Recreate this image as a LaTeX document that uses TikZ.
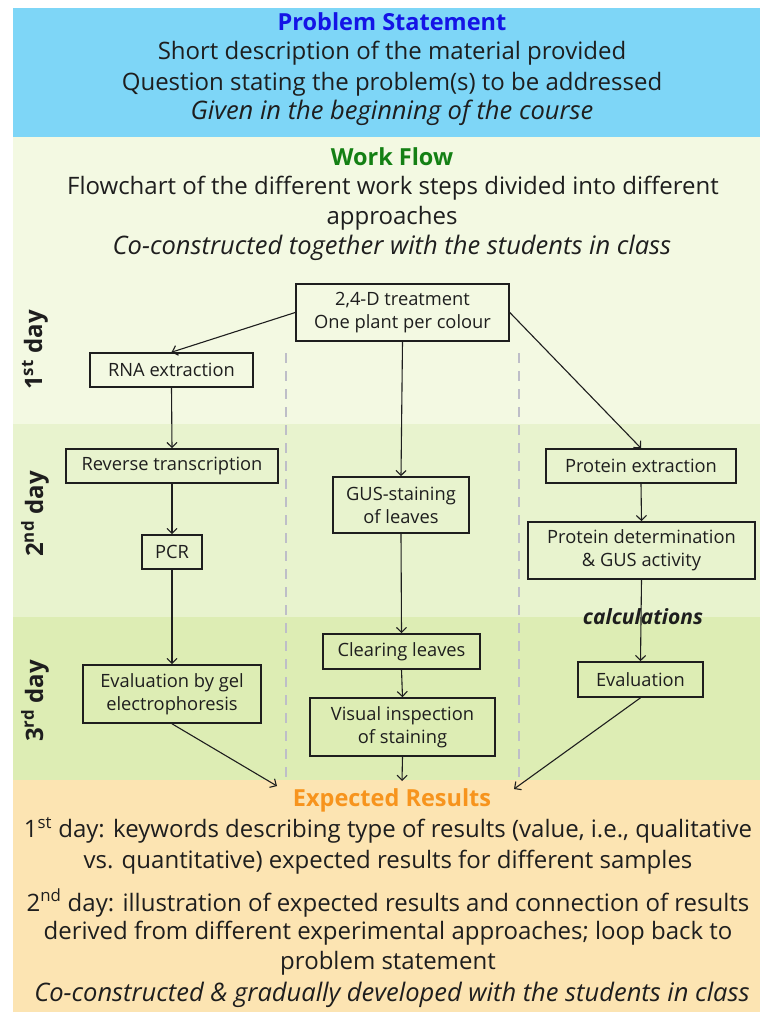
\documentclass[tikz,border=0pt]{standalone}
\usepackage{fontspec}
\setmainfont{Open Sans}
\usetikzlibrary{arrows.meta}
\definecolor{psblue}{RGB}{126,214,247}
\definecolor{pstitle}{RGB}{20,20,230}
\definecolor{wftitle}{RGB}{20,128,20}
\definecolor{bgone}{RGB}{243,249,226}
\definecolor{bgtwo}{RGB}{232,243,206}
\definecolor{bgthree}{RGB}{221,237,180}
\definecolor{bgres}{RGB}{252,228,178}
\definecolor{restitle}{RGB}{247,148,29}
\definecolor{txt}{RGB}{30,30,30}
\definecolor{dashc}{RGB}{190,190,200}
\tikzset{
  hdr/.style={font=\fontsize{24}{28}\selectfont, text=txt, inner sep=0pt},
  hdrit/.style={hdr, font=\fontsize{25.5}{28}\selectfont\itshape},
  ttl/.style={font=\fontsize{23.5}{26}\selectfont\bfseries, inner sep=0pt},
  daylbl/.style={font=\fontsize{24}{26}\selectfont\bfseries, text=txt, rotate=90, inner sep=0pt},
  stepbox/.style={draw=txt, line width=1.6pt, font=\fontsize{18.3}{23}\selectfont, align=center, inner sep=0pt, text=txt},
  arr/.style={-{Straight Barb[length=5pt,width=10pt]}, line width=1.1pt, draw=txt},
  sep/.style={draw=dashc, line width=1.5pt, dash pattern=on 10pt off 8pt},
}
\begin{document}
\begin{tikzpicture}[x=1pt,y=-1pt]
\useasboundingbox (0,0) rectangle (760,1012);
% bands
\fill[white] (0,0) rectangle (760,1012);
\fill[psblue] (13,8) rectangle (760,137);
\fill[bgone] (13,137) rectangle (760,424);
\fill[bgtwo] (13,424) rectangle (760,617);
\fill[bgthree] (13,617) rectangle (760,780);
\fill[bgres] (13,780) rectangle (760,1012);
% problem statement
\node[ttl, text=pstitle] (pst) at (392,22) {Problem Statement};
\node[hdr] (ps1) at (392,53) {Short description of the material provided};
\node[hdr] (ps2) at (392,84) {Question stating the problem(s) to be addressed};
\node[hdrit] (ps3) at (392,113) {Given in the beginning of the course};
% work flow
\node[ttl, text=wftitle] (wft) at (392,157) {Work Flow};
\node[hdr] (wf1) at (393,188) {Flowchart of the different work steps divided into different};
\node[hdr] (wf2) at (392,218) {approaches};
\node[hdrit] (wf3) at (392,248) {Co-constructed together with the students in class};
% day labels
\node[daylbl] (d1) at (35,350) {1\textsuperscript{st} day};
\node[daylbl] (d2) at (35,514) {2\textsuperscript{nd} day};
\node[daylbl] (d3) at (35,701) {3\textsuperscript{rd} day};
% separators
\draw[sep] (286,353) -- (286,778);
\draw[sep] (519,353) -- (519,778);
% boxes
\node[stepbox, minimum width=213pt, minimum height=57pt] (tr) at (402.5,312.5) {2,4-D treatment\\One plant per colour};
\node[stepbox, minimum width=163pt, minimum height=34pt] (rna) at (171.5,370) {RNA extraction};
\node[stepbox, minimum width=212pt, minimum height=34pt] (rt) at (172,466) {Reverse transcription};
\node[stepbox, minimum width=60pt, minimum height=34pt] (pcr) at (172,552) {PCR};
\node[stepbox, minimum width=178pt, minimum height=58pt] (gel) at (172,694) {Evaluation by gel\\electrophoresis};
\node[stepbox, minimum width=136pt, minimum height=56pt] (gus) at (401,505) {GUS-staining\\of leaves};
\node[stepbox, minimum width=157pt, minimum height=35pt] (clr) at (401.5,651.5) {Clearing leaves};
\node[stepbox, minimum width=185pt, minimum height=58pt] (vis) at (402.5,727) {Visual inspection\\of staining};
\node[stepbox, minimum width=190pt, minimum height=34pt] (pe) at (641,466) {Protein extraction};
\node[stepbox, minimum width=227pt, minimum height=57pt] (pd) at (641.5,550.5) {Protein determination\\\& GUS activity};
\node[stepbox, minimum width=125pt, minimum height=35pt] (ev) at (640.5,679.5) {Evaluation};
% free ends
\coordinate (erL) at (277,786);
\coordinate (erM) at (402,781);
\coordinate (erR) at (514,789);
% arrows
\draw[arr] (tr.west) -- (rna.north);
\draw[arr] (tr.south) -- (gus.north);
\draw[arr] (tr.east) -- (pe.north);
\draw[arr] (rna.south) -- (rt.north);
\draw[arr] (rt.south) -- (pcr.north);
\draw[arr] (pcr.south) -- (gel.north);
\draw[arr] (gus.south) -- (clr.north);
\draw[arr] (clr.south) -- (vis.north);
\draw[arr] (pe.south) -- (pd.north);
\draw[arr] (pd.south) -- (ev.north);
\draw[arr] (gel.south) -- (erL);
\draw[arr] (vis.south) -- (erM);
\draw[arr] (ev.south) -- (erR);
\node[font=\fontsize{21}{24}\selectfont\bfseries\itshape, text=txt, inner sep=0pt] (calc) at (643,617) {calculations};
% expected results
\node[ttl, text=restitle] (ert) at (392,800) {Expected Results};
\node[hdr] (er1) at (388,830) {1\textsuperscript{st} day: keywords describing type of results (value, i.e., qualitative};
\node[hdr] (er2) at (388,862) {vs. quantitative) expected results for different samples};
\node[hdr] (er3) at (388,903) {2\textsuperscript{nd} day: illustration of expected results and connection of results};
\node[hdr] (er4) at (388,933) {derived from different experimental approaches; loop back to};
\node[hdr] (er5) at (388,963) {problem statement};
\node[hdrit] (er6) at (392,995) {Co-constructed \& gradually developed with the students in class};
\end{tikzpicture}
\end{document}
